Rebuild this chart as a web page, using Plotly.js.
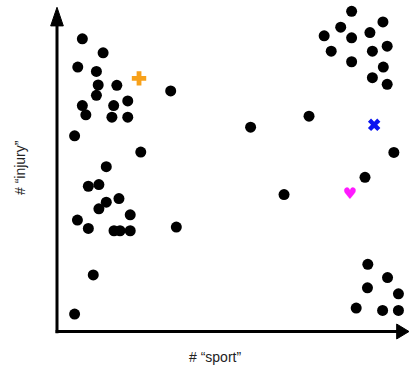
<!DOCTYPE html>
<html>
<head>
<meta charset="utf-8">
<script src="https://cdn.plot.ly/plotly-3.0.1.min.js"></script>
<style>
  html, body { margin: 0; padding: 0; background: #fff; }
  #chart { width: 409px; height: 374px; }
</style>
</head>
<body>
<div id="chart"></div>
<script>
// Documents plotted by word counts: # "sport" (x) vs # "injury" (y)
const docSport = [
  7.2, 13.1, 5.9, 11.2, 11.7, 17.0, 11.2, 20.1, 7.2, 16.1, 8.2, 15.6, 20.1, 5.0, 32.3,
  23.8, 14.0, 8.9, 11.9, 17.6, 14.0, 11.9, 5.8, 20.8, 8.9, 16.2, 17.9, 20.8, 33.9,
  10.3, 5.0,
  83.7, 92.6, 80.6, 75.9, 83.7, 88.9, 77.9, 89.6, 93.8, 83.7, 92.7, 89.6, 93.8,
  71.6, 55.0, 95.7, 87.5, 64.5,
  88.3, 93.9, 88.2, 97.0, 85.0, 92.5, 97.0
];
const docInjury = [
  88.3, 84.1, 79.8, 78.5, 74.4, 74.3, 71.3, 69.6, 68.2, 68.2, 65.4, 64.7, 64.7, 59.1, 72.6,
  54.2, 49.8, 43.9, 44.4, 40.2, 39.1, 37.1, 33.7, 35.3, 31.2, 30.5, 30.5, 30.5, 31.6,
  17.2, 5.4,
  96.6, 93.4, 91.8, 89.2, 88.6, 90.2, 84.6, 84.6, 86.1, 81.4, 79.8, 76.6, 74.6,
  65.0, 61.7, 54.1, 46.6, 41.4,
  20.4, 16.4, 13.3, 11.5, 7.2, 6.5, 6.5
];

// Highlighted documents
const plusPoint  = { sport: [23.3], injury: [76.4] };
const crossPoint = { sport: [90.1], injury: [62.4] };
const heartPoint = { sport: [83.2], injury: [41.4] };

const xTitle = '# \u201Csport\u201D';
const yTitle = '# \u201Cinjury\u201D';

const traces = [
  {
    x: docSport, y: docInjury, type: 'scatter', mode: 'markers',
    marker: { color: '#000', size: 11 }, hoverinfo: 'x+y'
  },
  {
    x: plusPoint.sport, y: plusPoint.injury, type: 'scatter', mode: 'markers',
    marker: { color: '#F7A11A', size: 12, symbol: 'cross' }
  },
  {
    x: crossPoint.sport, y: crossPoint.injury, type: 'scatter', mode: 'markers',
    marker: { color: '#0A14F0', size: 11, symbol: 'x' }
  },
  {
    x: heartPoint.sport, y: heartPoint.injury, type: 'scatter', mode: 'text',
    text: ['\u2665'], textposition: 'middle center',
    textfont: { color: '#FF19FF', size: 16, family: 'DejaVu Sans' }
  }
];

const ax = {
  range: [0, 100], showgrid: false, zeroline: false,
  showticklabels: false, showline: false, ticks: '', fixedrange: true
};

const layout = {
  width: 409, height: 374,
  margin: { l: 57, r: 0, t: 0, b: 42 },
  paper_bgcolor: '#fff', plot_bgcolor: '#fff',
  showlegend: false,
  font: { family: 'Liberation Sans, Arial, sans-serif', size: 14, color: '#222' },
  xaxis: Object.assign({}, ax),
  yaxis: Object.assign({}, ax),
  shapes: [
    // vertical axis with arrowhead
    { type: 'line', xref: 'paper', yref: 'paper', x0: 0, x1: 0, y0: -0.004, y1: 0.93,
      line: { color: '#000', width: 3 } },
    { type: 'path', xref: 'paper', yref: 'paper',
      path: 'M -0.018 0.922 L 0 0.978 L 0.018 0.922 Z',
      fillcolor: '#000', line: { color: '#000', width: 1 } },
    // horizontal axis with arrowhead
    { type: 'line', xref: 'paper', yref: 'paper', x0: -0.004, x1: 0.97, y0: 0.0015, y1: 0.0015,
      line: { color: '#000', width: 3 } },
    { type: 'path', xref: 'paper', yref: 'paper',
      path: 'M 0.965 -0.021 L 1.0 0.0015 L 0.965 0.024 Z',
      fillcolor: '#000', line: { color: '#000', width: 1 } }
  ],
  annotations: [
    { text: xTitle, xref: 'paper', yref: 'paper', x: 0.449, y: -0.075,
      showarrow: false, xanchor: 'center', yanchor: 'middle' },
    { text: yTitle, xref: 'paper', yref: 'paper', x: -0.105, y: 0.494,
      showarrow: false, textangle: -90, xanchor: 'center', yanchor: 'middle' }
  ]
};

Plotly.newPlot('chart', traces, layout, { displayModeBar: false, staticPlot: true });
</script>
</body>
</html>
